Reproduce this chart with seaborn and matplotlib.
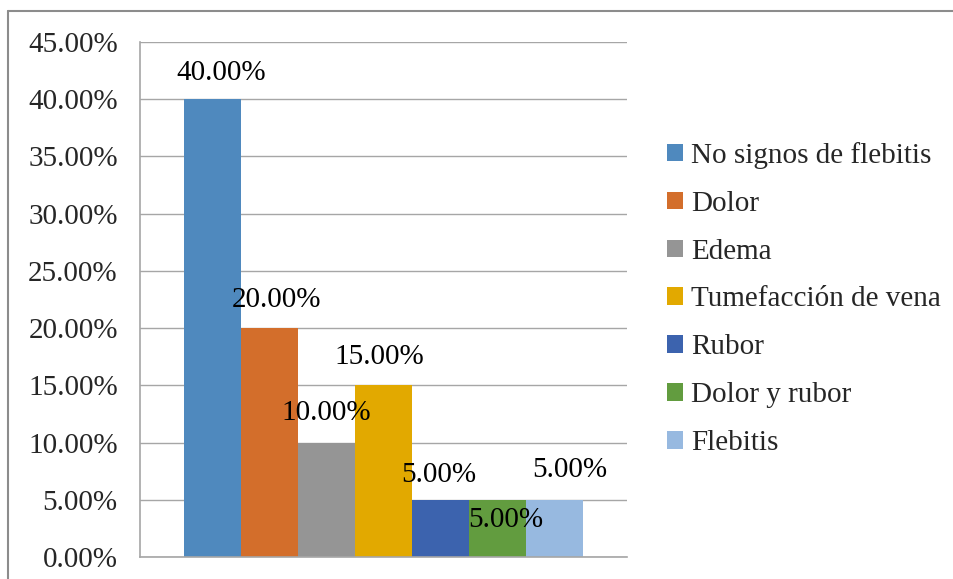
import matplotlib.pyplot as plt
import seaborn as sns
import pandas as pd
import numpy as np
from matplotlib.lines import Line2D
from matplotlib.patches import Patch

signos = ['No signos de flebitis', 'Dolor', 'Edema', 'Tumefacción de vena',
          'Rubor', 'Dolor y rubor', 'Flebitis']
porcentajes = [40.0, 20.0, 10.0, 15.0, 5.0, 5.0, 5.0]
colores = ['#4F89BE', '#D36E2B', '#959595', '#E2A900', '#3C63AE', '#629C3F', '#97B9E0']
yticks = [0, 5, 10, 15, 20, 25, 30, 35, 40, 45]

# where Excel put the data labels (offset from bar top/centre, in pixels)
label_dx = [9, 7, 0, -4, -2, 8, 15]
label_dy = [26, 28, 30, 28, 25, -20, 30]

df = pd.DataFrame({'grupo': [''] * len(signos), 'signo': signos, 'valor': porcentajes})

sns.set_style('white')
plt.rcParams['font.family'] = ['Liberation Serif', 'DejaVu Serif']
fs = 21

fig = plt.figure(figsize=(9.54, 5.79), dpi=100)
ax = fig.add_axes([140 / 954, 1 - 557 / 579, (627 - 140) / 954, (557 - 42) / 579])

sns.barplot(data=df, x='grupo', y='valor', hue='signo', hue_order=signos,
            palette=colores, saturation=1, width=0.82, ax=ax, legend=False,
            linewidth=0, edgecolor='none')

ax.set_xlim(-0.5, 0.5)
ax.set_ylim(0, 45)
ax.set_yticks(yticks)
ax.set_yticklabels(['{:.2f}%'.format(v) for v in yticks], fontsize=fs)
ax.tick_params(axis='y', length=0, pad=16)
ax.set_xticks([])
ax.set_xlabel('')
ax.set_ylabel('')
ax.grid(axis='y', color='#A6A6A6', linewidth=1)
ax.set_axisbelow(True)
for s in ['top', 'right']:
    ax.spines[s].set_visible(False)
for s in ['left', 'bottom']:
    ax.spines[s].set_color('#A6A6A6')
    ax.spines[s].set_linewidth(1.2)

px = 72 / 100
for bar, v, dx, dy in zip(ax.patches, porcentajes, label_dx, label_dy):
    cx = bar.get_x() + bar.get_width() / 2
    ax.annotate('{:.2f}%'.format(v), (cx, bar.get_height()),
                xytext=(dx * px, dy * px), textcoords='offset points',
                ha='center', va='center', fontsize=fs, color='black')

handles = [Patch(facecolor=c, edgecolor='none') for c in colores]
fig.legend(handles, signos, loc='center left', bbox_to_anchor=(655 / 954, 1 - 299 / 579),
           frameon=False, fontsize=fs, handlelength=0.55, handleheight=0.55,
           handletextpad=0.3, labelspacing=0.75, borderaxespad=0)

# outer chart border (only top and left visible in the crop)
fig.add_artist(Line2D([8 / 954, 1], [1 - 11 / 579] * 2, color='#8C8C8C', linewidth=1.5))
fig.add_artist(Line2D([8 / 954] * 2, [0, 1 - 11 / 579], color='#8C8C8C', linewidth=1.5))

fig.savefig('out.png', dpi=100)
